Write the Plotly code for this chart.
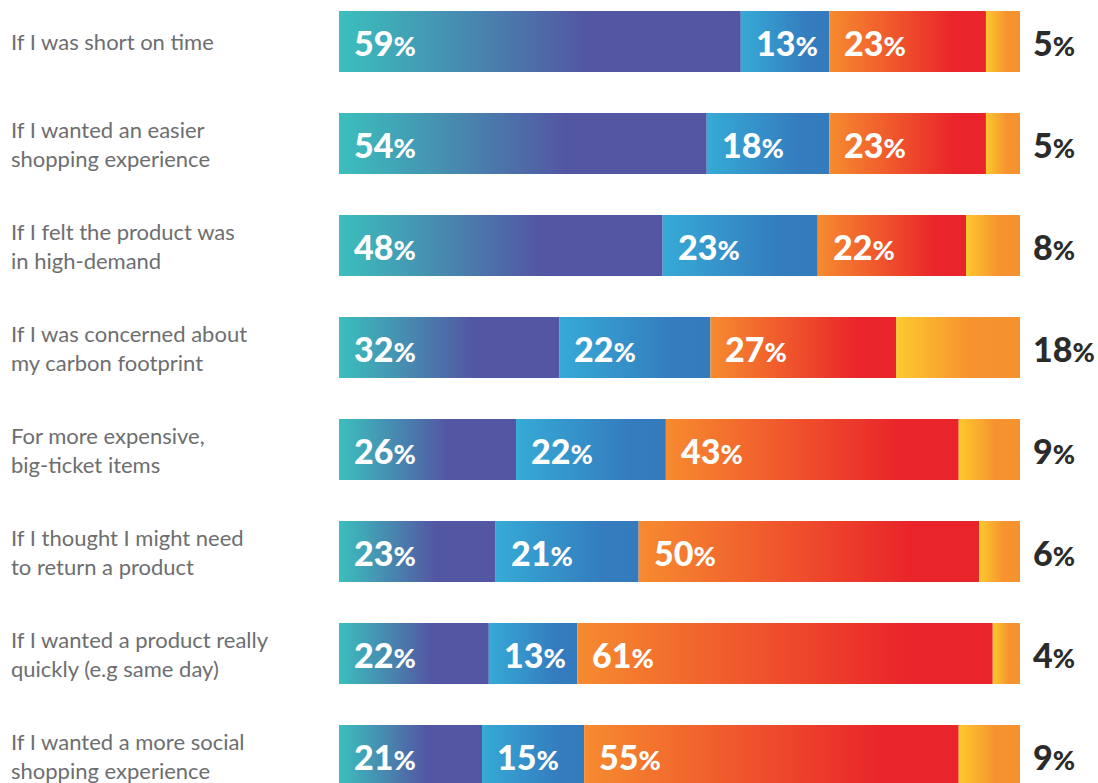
import plotly.graph_objects as go

# Survey answers, one row per scenario
categories = [
    "If I was short on time",
    "If I wanted an easier<br>shopping experience",
    "If I felt the product was<br>in high-demand",
    "If I was concerned about<br>my carbon footprint",
    "For more expensive,<br>big-ticket items",
    "If I thought I might need<br>to return a product",
    "If I wanted a product really<br>quickly (e.g same day)",
    "If I wanted a more social<br>shopping experience",
]

# Percentages per answer group, in stacking order
seg_a = [59, 54, 48, 32, 26, 23, 22, 21]
seg_b = [13, 18, 23, 22, 22, 21, 13, 15]
seg_c = [23, 23, 22, 27, 43, 50, 61, 55]
seg_d = [5, 5, 8, 18, 9, 6, 4, 9]

series = [seg_a, seg_b, seg_c, seg_d]

# Horizontal gradient for each segment group
gradients = [
    [[0, "#3bbfbd"], [0.62, "#5356a3"], [1, "#5356a3"]],
    [[0, "#36aad6"], [0.75, "#347cbe"], [1, "#347bbd"]],
    [[0, "#f68b2f"], [0.8, "#e9242a"], [1, "#e9242a"]],
    [[0, "#fdc92d"], [0.6, "#f6922f"], [1, "#f6912f"]],
]

HALF = 0.299  # half bar thickness in row units

fig = go.Figure()
annotations = []

for r, cat in enumerate(categories):
    vals = [s[r] for s in series]
    total = sum(vals)
    start = 0.0
    for k, v in enumerate(vals):
        w = v / total * 100.0
        x0, x1 = start, start + w
        fig.add_trace(go.Scatter(
            x=[x0, x1, x1, x0, x0],
            y=[r - HALF, r - HALF, r + HALF, r + HALF, r - HALF],
            mode="lines",
            line=dict(width=0),
            fill="toself",
            fillgradient=dict(type="horizontal", colorscale=gradients[k]),
            hoverinfo="text",
            text=f"{v}%",
            showlegend=False,
        ))
        label = f"{v}<span style='font-size:27px'>%</span>"
        if k < 3:
            annotations.append(dict(
                x=x0, y=r, xref="x", yref="y", xanchor="left", yanchor="middle",
                xshift=13, yshift=-1, showarrow=False, text=label,
                font=dict(family="Lato", size=34, weight=900, color="white"),
            ))
        else:
            annotations.append(dict(
                x=100, y=r, xref="x", yref="y", xanchor="left", yanchor="middle",
                xshift=11, yshift=-1, showarrow=False, text=label,
                font=dict(family="Lato", size=34, weight=900, color="#2b2b2b"),
            ))
        start = x1

    annotations.append(dict(
        x=-0.4846, y=r, xref="paper", yref="y", xanchor="left", yanchor="middle",
        align="left", showarrow=False, text=cat,
        font=dict(family="Lato", size=22, color="#6d6e70"),
    ))

fig.update_layout(
    width=1098, height=783,
    margin=dict(l=339, r=78, t=0, b=0),
    paper_bgcolor="white", plot_bgcolor="white",
    xaxis=dict(range=[0, 100], visible=False, fixedrange=True),
    yaxis=dict(range=[7.2696, -0.4069], visible=False, fixedrange=True),
    annotations=annotations,
    showlegend=False,
)

fig.write_html("out.html")
